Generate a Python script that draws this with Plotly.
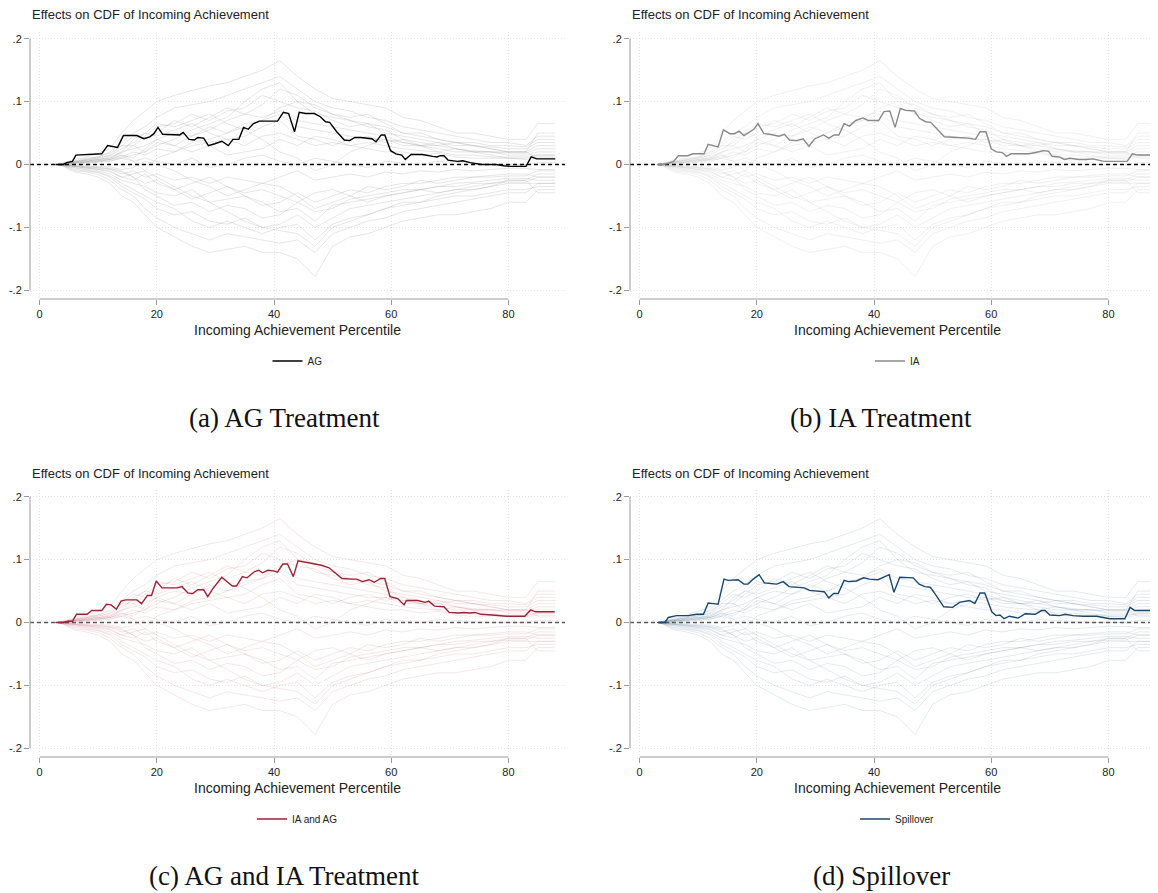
import plotly.graph_objects as go

# the page body keeps its default 8px margin, so the figure is 8px smaller
# and every position below is given in screen pixels, then shifted
W, H = 1150, 885
OFF = 8
FONT = "Liberation Sans"


def fx(p):
    return (p - OFF) / W


def fy(p):
    return 1 - (p - OFF) / H


# main estimates (x = incoming achievement percentile, y = effect on CDF)
ag_x = [2.7, 4.0, 4.6, 5.6, 6.2, 8.4, 9.0, 10.6, 11.6, 12.5, 13.3, 14.3, 16.6, 17.8, 18.8, 19.5, 20.2, 21.0, 22.9, 23.9,
        24.5, 25.5, 26.4, 27.0, 28.0, 28.8, 29.9, 31.1, 32.2, 33.0, 34.0, 34.8, 35.6, 36.5, 37.5, 40.0, 40.6, 41.6, 42.5, 43.5,
        44.3, 45.4, 46.9, 47.9, 48.8, 49.5, 50.7, 52.0, 52.9, 53.8, 54.8, 56.7, 57.4, 58.3, 58.9, 59.9, 60.8, 61.8, 62.4, 63.4,
        65.3, 67.1, 67.8, 68.4, 69.0, 69.7, 71.3, 72.2, 73.5, 75.4, 77.9, 79.2, 80.4, 83.0, 83.9, 84.8, 88.0]
ag_y = [0, 0, .003, .005, .015, .016, .017, .017, .030, .029, .027, .046, .046, .041, .044, .049, .059, .048, .047, .047,
        .051, .040, .039, .043, .042, .030, .033, .037, .030, .040, .040, .059, .056, .065, .069, .069, .069, .083, .081, .052,
        .083, .081, .081, .076, .068, .067, .052, .039, .038, .043, .043, .041, .036, .047, .047, .022, .017, .015, .008, .016,
        .016, .013, .012, .014, .014, .007, .005, .006, .003, 0, 0, -.002, -.003, -.003, .012, .009, .009]

ia_x = [3.0, 4.0, 4.9, 5.8, 6.6, 8.2, 9.1, 11.0, 11.7, 12.7, 13.4, 14.3, 15.4, 16.2, 17.0, 17.8, 18.8, 19.5, 20.2, 21.2,
        22.2, 23.8, 24.7, 25.6, 26.8, 27.9, 28.9, 29.9, 31.4, 32.3, 33.2, 34.0, 34.9, 35.8, 36.9, 38.1, 39.0, 40.8, 41.7, 42.7,
        43.6, 44.5, 45.4, 46.9, 47.8, 48.8, 49.7, 52.0, 54.2, 56.1, 57.3, 58.1, 59.1, 60.0, 60.9, 61.9, 62.6, 63.4, 65.5, 66.4,
        67.6, 68.9, 69.8, 70.4, 71.6, 72.5, 73.4, 75.0, 76.2, 77.4, 79.2, 83.2, 84.1, 85.0, 88.0]
ia_y = [0, 0, .002, .005, .014, .014, .017, .017, .032, .030, .028, .055, .049, .049, .053, .046, .052, .056, .065, .049,
        .048, .045, .048, .039, .038, .041, .029, .041, .047, .042, .047, .047, .065, .061, .070, .074, .070, .070, .084, .085,
        .059, .089, .086, .085, .073, .068, .067, .044, .043, .042, .040, .052, .052, .025, .020, .019, .013, .017, .017, .017,
        .019, .022, .021, .013, .012, .008, .010, .008, .008, .009, .005, .005, .017, .015, .015]

both_x = [2.7, 4.0, 4.9, 5.6, 6.3, 8.1, 8.9, 10.6, 11.4, 12.2, 13.1, 13.9, 14.7, 16.6, 17.4, 18.4, 19.1, 19.9, 20.9, 23.5,
          24.3, 25.3, 26.1, 27.0, 28.0, 28.7, 29.5, 31.1, 32.1, 32.9, 33.6, 34.6, 35.4, 36.7, 37.4, 38.0, 39.0, 39.9, 40.6, 41.5,
          42.3, 43.3, 44.1, 45.3, 46.9, 48.1, 49.4, 50.3, 51.6, 53.2, 54.1, 55.1, 56.2, 57.1, 58.2, 58.9, 59.8, 61.1, 62.2, 62.6,
          64.5, 65.8, 66.4, 67.4, 69.0, 69.9, 71.5, 72.4, 73.4, 74.3, 75.3, 77.2, 78.1, 79.7, 82.8, 83.8, 84.6, 87.9]
both_y = [0, 0, .002, .002, .013, .013, .019, .019, .029, .028, .021, .034, .036, .036, .030, .043, .043, .066, .055, .055,
          .057, .047, .046, .052, .052, .041, .053, .072, .064, .058, .058, .073, .071, .081, .083, .079, .083, .082, .080, .093,
          .093, .073, .098, .096, .094, .091, .087, .080, .070, .069, .069, .065, .068, .064, .070, .070, .041, .038, .028, .035,
          .035, .032, .034, .026, .025, .016, .015, .016, .015, .016, .013, .012, .011, .010, .010, .020, .017, .017]

spill_x = [3.2, 4.3, 4.9, 5.75, 6.3, 8.3, 9.7, 10.9, 11.7, 12.6, 13.4, 14.4, 15.1, 16.8, 17.8, 18.5, 19.4, 20.4, 21.3, 23.4,
           24.5, 25.5, 27.4, 28.1, 29.0, 30.8, 31.5, 32.3, 33.1, 33.9, 34.9, 35.6, 37.0, 38.2, 39.2, 40.7, 42.6, 43.4, 44.4, 46.7,
           47.7, 48.7, 49.6, 50.4, 51.9, 53.4, 54.6, 56.3, 57.2, 58.1, 58.9, 60.1, 60.8, 61.5, 62.2, 63.1, 64.6, 65.8, 66.6, 67.5,
           68.6, 69.2, 70.0, 71.7, 72.6, 74.0, 75.7, 77.1, 78.0, 79.1, 80.3, 82.8, 83.7, 84.5, 88.0]
spill_y = [0, 0, .008, .010, .011, .011, .013, .013, .031, .030, .029, .069, .067, .068, .061, .061, .069, .076, .063, .061,
           .065, .057, .056, .055, .051, .049, .049, .039, .046, .046, .067, .065, .066, .071, .069, .068, .076, .048, .072, .071,
           .061, .057, .056, .046, .025, .024, .032, .035, .030, .047, .047, .017, .011, .012, .006, .010, .007, .014, .013, .013,
           .019, .019, .012, .011, .013, .011, .010, .010, .010, .008, .006, .006, .024, .019, .019]

# a subset of the permutation draws, traced by eye (shared grid)
draw_x = [3, 4, 5, 6, 8, 10, 12, 14, 16, 18, 20, 23, 26, 29, 32, 35, 38, 41, 44, 47, 50, 53, 56, 59, 62, 65, 68, 71, 74, 77, 80, 83, 85, 88]
draw_01 = [0, .002, .005, .008, .012, .018, .025, .05, .07, .085, .1, .11, .118, .125, .13, .14, .15, .165, .14, .12, .105, .1, .095, .09, .075, .07, .06, .05, .05, .045, .04, .04, .065, .065]
draw_02 = [0, -.002, -.008, -.012, -.015, -.02, -.03, -.05, -.06, -.08, -.1, -.115, -.13, -.14, -.135, -.13, -.14, -.14, -.15, -.178, -.13, -.115, -.11, -.1, -.09, -.085, -.08, -.08, -.075, -.07, -.06, -.06, -.04, -.04]
draw_03 = [0, .002, .004, .006, .01, .012, .02, .035, .05, .06, .075, .09, .095, .1, .11, .12, .13, .14, .12, .1, .09, .085, .075, .07, .06, .055, .05, .045, .04, .035, .035, .03, .045, .045]
draw_04 = [0, 0, .003, .004, .008, .01, .015, .03, .03, .045, .06, .065, .08, .07, .085, .09, .11, .1, .09, .085, .07, .06, .065, .05, .045, .04, .035, .03, .03, .025, .02, .02, .03, .03]
draw_05 = [0, 0, .002, .003, .005, .008, .01, .02, .025, .03, .04, .05, .045, .06, .05, .065, .07, .08, .06, .055, .05, .045, .04, .04, .03, .03, .025, .02, .02, .02, .015, .015, .02, .02]
draw_06 = [0, 0, 0, .002, .003, .005, .008, .012, .02, .015, .025, .02, .03, .035, .04, .03, .045, .05, .04, .03, .035, .03, .025, .02, .02, .015, .018, .012, .01, .01, .01, .008, .012, .012]
draw_07 = [0, 0, 0, 0, .002, .003, .005, .01, .005, .01, .005, 0, .01, -.005, 0, .01, .015, .005, 0, .01, .005, 0, -.005, .005, .002, 0, .005, .003, .002, 0, 0, 0, .003, .003]
draw_08 = [0, 0, -.002, -.003, -.005, -.006, -.008, -.015, -.01, -.02, -.015, -.025, -.02, -.03, -.02, -.025, -.03, -.02, -.01, -.025, -.02, -.015, -.02, -.012, -.015, -.01, -.012, -.008, -.01, -.008, -.006, -.006, -.008, -.008]
draw_09 = [0, -.001, -.003, -.005, -.008, -.01, -.015, -.025, -.03, -.035, -.045, -.05, -.04, -.06, -.055, -.05, -.065, -.06, -.045, -.06, -.05, -.04, -.045, -.035, -.03, -.03, -.025, -.02, -.02, -.018, -.015, -.015, -.02, -.02]
draw_10 = [0, -.002, -.005, -.008, -.01, -.013, -.02, -.035, -.045, -.055, -.07, -.08, -.075, -.09, -.095, -.085, -.1, -.095, -.08, -.1, -.085, -.07, -.065, -.06, -.055, -.05, -.045, -.04, -.04, -.035, -.03, -.03, -.03, -.03]
draw_11 = [0, -.002, -.006, -.01, -.012, -.016, -.025, -.04, -.05, -.07, -.085, -.1, -.11, -.12, -.11, -.115, -.12, -.125, -.12, -.14, -.11, -.1, -.09, -.085, -.075, -.07, -.065, -.06, -.055, -.05, -.045, -.045, -.03, -.03]
draw_12 = [0, .001, .003, .005, .006, .008, .012, .02, .04, .05, .065, .06, .07, .08, .065, .055, .04, .02, .01, -.01, 0, .02, .03, .04, .035, .03, .02, .025, .02, .015, .01, .01, .015, .015]
draw_13 = [0, -.001, -.002, -.004, -.006, -.008, -.012, -.02, -.015, -.01, .01, .02, .035, .04, .05, .06, .07, .09, .1, .08, .075, .07, .06, .055, .04, .03, .035, .025, .02, .02, .018, .018, .025, .025]
draw_14 = [0, .001, .002, .003, .005, .006, .008, .015, .005, -.01, -.02, -.035, -.05, -.06, -.075, -.09, -.1, -.105, -.11, -.13, -.1, -.09, -.08, -.07, -.065, -.06, -.05, -.045, -.04, -.035, -.025, -.025, -.015, -.015]
draw_15 = [0, .001, .002, .004, .006, .008, .01, .018, .03, .02, .035, .03, .02, .03, .015, .02, .025, .04, .03, .045, .04, .03, .035, .03, .025, .022, .02, .015, .015, .012, .012, .012, .015, .015]
draw_16 = [0, -.001, -.003, -.004, -.006, -.007, -.01, -.02, -.025, -.015, -.03, -.04, -.055, -.045, -.035, -.045, -.04, -.05, -.06, -.045, -.04, -.05, -.035, -.04, -.035, -.025, -.03, -.025, -.02, -.02, -.018, -.018, -.01, -.01]
draw_17 = [0, .001, .003, .005, .008, .012, .018, .03, .045, .04, .05, .07, .06, .075, .09, .08, .095, .12, .11, .09, .08, .07, .065, .06, .05, .045, .04, .035, .03, .028, .025, .025, .035, .035]
draw_18 = [0, -.001, -.004, -.006, -.009, -.012, -.018, -.03, -.04, -.05, -.06, -.07, -.09, -.1, -.09, -.1, -.11, -.1, -.095, -.12, -.095, -.085, -.08, -.07, -.06, -.06, -.055, -.05, -.05, -.045, -.04, -.04, -.035, -.035]
draw_19 = [0, 0, .001, .002, .004, .006, .008, .015, .01, .025, .04, .03, .045, .055, .07, .08, .075, .085, .07, .065, .06, .055, .05, .045, .035, .03, .03, .025, .022, .02, .02, .02, .05, .05]
draw_20 = [0, 0, -.001, -.002, -.003, -.005, -.006, -.01, -.02, -.03, -.025, -.04, -.03, -.02, -.035, -.05, -.06, -.075, -.07, -.09, -.065, -.06, -.055, -.05, -.045, -.04, -.035, -.035, -.03, -.03, -.025, -.025, -.045, -.045]
draw_21 = [0, .001, .003, .004, .007, .01, .014, .025, .035, .05, .045, .055, .065, .05, .04, .045, .06, .07, .045, .04, .03, .04, .045, .035, .04, .035, .03, .035, .03, .025, .02, .02, .01, .01]
draw_22 = [0, -.001, -.002, -.003, -.004, -.005, -.007, -.012, -.02, -.04, -.05, -.065, -.06, -.075, -.065, -.07, -.085, -.08, -.06, -.075, -.07, -.055, -.05, -.045, -.04, -.04, -.035, -.03, -.028, -.025, -.022, -.022, -.025, -.025]
draw_23 = [0, 0, .001, .002, .003, .004, .006, .01, .015, .02, .03, .04, .055, .065, .075, .1, .12, .13, .1, .095, .08, .075, .08, .065, .05, .05, .04, .035, .035, .03, .03, .028, .04, .04]
draw_24 = [0, 0, -.001, -.001, -.002, -.003, -.004, -.008, -.005, .005, 0, -.01, -.025, -.035, -.05, -.04, -.03, -.035, -.05, -.07, -.06, -.05, -.06, -.05, -.045, -.04, -.045, -.04, -.035, -.03, -.028, -.028, -.02, -.02]
draws = [draw_01, draw_02, draw_03, draw_04, draw_05, draw_06, draw_07, draw_08,
         draw_09, draw_10, draw_11, draw_12, draw_13, draw_14, draw_15, draw_16,
         draw_17, draw_18, draw_19, draw_20, draw_21, draw_22, draw_23, draw_24]

y_ticks = [-.2, -.1, 0, .1, .2]
y_labels = ["-.2", "-.1", "0", ".1", ".2"]
x_ticks = [0, 20, 40, 60, 80]

# (suffix, x offset px, y offset px, x, y, name, line colour, cloud colour, zero-line colour, caption)
panels = [
    ("", 0, 0, ag_x, ag_y, "AG", "#000000", "rgba(140,140,140,0.22)", "#000000", "(a) AG Treatment"),
    ("2", 600, 0, ia_x, ia_y, "IA", "#8a8a8a", "rgba(165,165,165,0.17)", "#000000", "(b) IA Treatment"),
    ("3", 0, 458, both_x, both_y, "IA and AG", "#9b2335", "rgba(165,55,70,0.12)", "#5a5a5a", "(c) AG and IA Treatment"),
    ("4", 600, 458, spill_x, spill_y, "Spillover", "#1a476f", "rgba(40,80,125,0.12)", "#5a5a5a", "(d) Spillover"),
]

fig = go.Figure()
shapes, annotations, layout_axes = [], [], {}

PX_PER_X = 5.86
X0_PX = 39.6
Y_PX_PER = 629.0

for suf, ox, oy, mx, my, name, col, cloud, zcol, caption in panels:
    xa, ya = "x" + suf, "y" + suf
    left, right = 30 + ox, min(565 + ox, W + OFF)
    top, bottom = 32 + oy, 299 + oy
    xr = [(30 - X0_PX) / PX_PER_X, (right - ox - X0_PX) / PX_PER_X]
    yr = [-.2 - (299 - 290.3) / Y_PX_PER, .2 + (38.7 - 32) / Y_PX_PER]
    leg = "legend" + suf

    for d in draws:
        fig.add_trace(go.Scatter(x=draw_x, y=d, mode="lines", xaxis=xa, yaxis=ya,
                                 line=dict(color=cloud, width=1), showlegend=False, hoverinfo="skip"))
    fig.add_trace(go.Scatter(x=xr, y=[0, 0], mode="lines", xaxis=xa, yaxis=ya,
                             line=dict(color=zcol, width=1.3, dash="4px,3px"), showlegend=False, hoverinfo="skip"))
    fig.add_trace(go.Scatter(x=mx, y=my, mode="lines", name=name, xaxis=xa, yaxis=ya, legend=leg,
                             line=dict(color=col, width=1.4)))

    layout_axes["xaxis" + suf] = dict(
        domain=[fx(left), min(fx(right), 1)], range=xr, anchor=ya, tickvals=x_ticks,
        ticks="outside", ticklen=5, tickcolor="#9a9a9a", showline=False, zeroline=False,
        showgrid=True, gridcolor="#e4e4e4", griddash="1px,2px", gridwidth=1,
        tickfont=dict(size=11, color="#222", family=FONT))
    layout_axes["yaxis" + suf] = dict(
        domain=[fy(bottom), fy(top)], range=yr, anchor=xa, tickvals=y_ticks, ticktext=y_labels,
        ticks="outside", ticklen=5, tickcolor="#9a9a9a", showline=False, zeroline=False,
        showgrid=True, gridcolor="#e4e4e4", griddash="1px,2px", gridwidth=1,
        tickfont=dict(size=11, color="#222", family=FONT))
    layout_axes[leg] = dict(
        x=fx(297.5 + ox), y=fy(361 + oy), xanchor="center", yanchor="middle",
        orientation="h", itemwidth=30, bgcolor="rgba(0,0,0,0)",
        font=dict(size=10, color="#222", family=FONT))

    # Stata-style axis lines only over the tick range
    shapes.append(dict(type="line", xref=xa, yref="paper", x0=0, x1=80,
                       y0=fy(bottom), y1=fy(bottom), line=dict(color="#9a9a9a", width=1)))
    shapes.append(dict(type="line", xref="paper", yref=ya, x0=fx(left), x1=fx(left),
                       y0=-.2, y1=.2, line=dict(color="#9a9a9a", width=1)))

    annotations.append(dict(text="Effects on CDF of Incoming Achievement", xref="paper", yref="paper",
                            x=fx(29.6 + ox), y=fy(15 + oy), xanchor="left", yanchor="middle",
                            showarrow=False, font=dict(size=13, color="#222", family=FONT)))
    annotations.append(dict(text="Incoming Achievement Percentile", xref="paper", yref="paper",
                            x=fx(297.5 + ox), y=fy(330 + oy), xanchor="center", yanchor="middle",
                            showarrow=False, font=dict(size=14, color="#222", family=FONT)))
    annotations.append(dict(text=caption, xref="paper", yref="paper",
                            x=fx(284 + ox * 0.995), y=fy(418 + oy), xanchor="center", yanchor="middle",
                            showarrow=False, font=dict(size=27, color="#111", family="Liberation Serif")))

fig.update_layout(
    width=W, height=H,
    margin=dict(l=0, r=0, t=0, b=0),
    paper_bgcolor="#ffffff",
    plot_bgcolor="#ffffff",
    font=dict(family=FONT, size=11, color="#222"),
    shapes=shapes, annotations=annotations,
    **layout_axes
)

fig.write_html("out.html")
